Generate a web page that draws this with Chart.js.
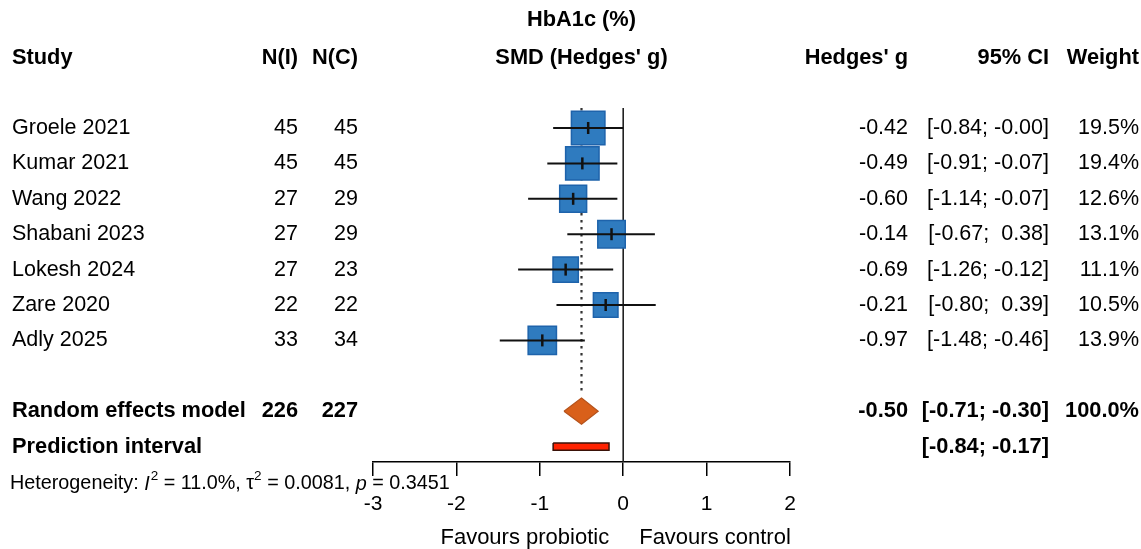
<!DOCTYPE html>
<html>
<head>
<meta charset="utf-8">
<script src="https://cdn.jsdelivr.net/npm/chart.js@4.4.1/dist/chart.umd.min.js"></script>
<style>
  html, body { margin: 0; padding: 0; background: #ffffff; }
  canvas { display: block; }
</style>
</head>
<body>
<canvas id="c" width="1141" height="549"></canvas>
<script>
// ---------------- data ----------------
const studies = ['Groele 2021', 'Kumar 2021', 'Wang 2022', 'Shabani 2023', 'Lokesh 2024', 'Zare 2020', 'Adly 2025'];
const nIntervention = [45, 45, 27, 27, 27, 22, 33];
const nControl = [45, 45, 29, 29, 23, 22, 34];
const hedgesG = [-0.42, -0.49, -0.60, -0.14, -0.69, -0.21, -0.97];
const ciLower = [-0.84, -0.91, -1.14, -0.67, -1.26, -0.80, -1.48];
const ciUpper = [-0.00, -0.07, -0.07, 0.38, -0.12, 0.39, -0.46];
const weights = [19.5, 19.4, 12.6, 13.1, 11.1, 10.5, 13.9];

const totalIntervention = 226;
const totalControl = 227;
const pooledEstimate = -0.50;
const pooledCI = [-0.71, -0.30];
const predictionInterval = [-0.84, -0.17];
const heterogeneity = { I2: 11.0, tau2: 0.0081, p: 0.3451 };

const xTicks = [-3, -2, -1, 0, 1, 2];
const outcomeLabel = 'HbA1c (%)';
const effectLabel = "SMD (Hedges' g)";
const labelLeft = 'Favours probiotic';
const labelRight = 'Favours control';

// ---------------- layout helpers ----------------
const ROW_RE = studies.length + 1;   // random effects row
const ROW_PI = studies.length + 2;   // prediction interval row
const Y_MIN = -0.565, Y_MAX = 9.435;
const FONT = "'Liberation Sans', Arial, Helvetica, sans-serif";

const fmt = v => ((v < 0 || Object.is(v, -0)) ? '-' : '') + Math.abs(v).toFixed(2);
const fmtCI = v => ((v < 0 || Object.is(v, -0)) ? '-' : ' ') + Math.abs(v).toFixed(2);

// ---------------- datasets ----------------
const datasets = [];

// reference line at 0
datasets.push({
  data: [{ x: 0, y: Y_MIN }, { x: 0, y: Y_MAX }],
  showLine: true, borderColor: '#222222', borderWidth: 1.6, pointRadius: 0, order: 20
});
// dotted line at pooled estimate
datasets.push({
  data: [{ x: pooledEstimate, y: Y_MIN }, { x: pooledEstimate, y: ROW_RE - 0.58 }],
  showLine: true, borderColor: '#333333', borderWidth: 2.2, borderDash: [2.5, 4.5], pointRadius: 0, order: 19
});
// squares
datasets.push({
  data: hedgesG.map((g, i) => ({ x: g, y: i })),
  pointStyle: 'rect',
  pointRadius: weights.map(w => 33.5 * Math.sqrt(w / 19.5) / Math.SQRT2),
  pointBackgroundColor: '#2f7bbf',
  pointBorderColor: '#1e63ab',
  pointBorderWidth: 1.5,
  showLine: false, order: 10
});
// CI lines
studies.forEach((s, i) => {
  datasets.push({
    data: [{ x: ciLower[i], y: i }, { x: ciUpper[i], y: i }],
    showLine: true, borderColor: '#111111', borderWidth: 2, pointRadius: 0, order: 5
  });
});
// estimate tick marks
datasets.push({
  data: hedgesG.map((g, i) => ({ x: g, y: i })),
  pointStyle: 'line', rotation: 90, pointRadius: 6,
  pointBorderColor: '#111111', pointBorderWidth: 2.5, showLine: false, order: 4
});
// diamond (random effects)
datasets.push({
  data: [
    { x: pooledCI[0], y: ROW_RE },
    { x: pooledEstimate, y: ROW_RE - 0.37 },
    { x: pooledCI[1], y: ROW_RE },
    { x: pooledEstimate, y: ROW_RE + 0.37 },
    { x: pooledCI[0], y: ROW_RE }
  ],
  showLine: true, fill: 'shape', backgroundColor: '#d9601a', borderColor: '#b5531c',
  borderWidth: 1.2, pointRadius: 0, tension: 0, order: 3
});
// prediction interval bar
datasets.push({
  data: [
    { x: predictionInterval[0], y: ROW_PI - 0.105 },
    { x: predictionInterval[1], y: ROW_PI - 0.105 },
    { x: predictionInterval[1], y: ROW_PI + 0.105 },
    { x: predictionInterval[0], y: ROW_PI + 0.105 },
    { x: predictionInterval[0], y: ROW_PI - 0.105 }
  ],
  showLine: true, fill: 'shape', backgroundColor: '#ff2200', borderColor: '#3a1208',
  borderWidth: 1.5, pointRadius: 0, tension: 0, order: 2
});

// ---------------- text plugin ----------------
const textPlugin = {
  id: 'forestText',
  afterDraw(chart) {
    const ctx = chart.ctx;
    const xs = chart.scales.x, ys = chart.scales.y;
    const area = chart.chartArea;
    const cx = (area.left + area.right) / 2;
    const colStudy = 12, colNI = 298, colNC = 358, colG = 908, colCI = 1049, colW = 1139;
    const hdrY = area.top - 50;
    const BOLD = `bold 21.8px ${FONT}`, REG = `21.5px ${FONT}`;
    ctx.save();
    ctx.fillStyle = '#000000';
    ctx.textBaseline = 'middle';

    // headers
    ctx.font = BOLD;
    ctx.textAlign = 'center';
    ctx.fillText(outcomeLabel, cx, area.top - 88);
    ctx.fillText(effectLabel, cx, hdrY);
    ctx.textAlign = 'left';
    ctx.fillText('Study', colStudy, hdrY);
    ctx.textAlign = 'right';
    ctx.fillText('N(I)', colNI, hdrY);
    ctx.fillText('N(C)', colNC, hdrY);
    ctx.fillText("Hedges' g", colG, hdrY);
    ctx.fillText('95% CI', colCI, hdrY);
    ctx.fillText('Weight', colW, hdrY);

    // study rows
    ctx.font = REG;
    studies.forEach((s, i) => {
      const y = ys.getPixelForValue(i);
      ctx.textAlign = 'left';
      ctx.fillText(s, colStudy, y);
      ctx.textAlign = 'right';
      ctx.fillText(String(nIntervention[i]), colNI, y);
      ctx.fillText(String(nControl[i]), colNC, y);
      ctx.fillText(fmt(hedgesG[i]), colG, y);
      ctx.fillText('[' + fmt(ciLower[i]) + '; ' + fmtCI(ciUpper[i]) + ']', colCI, y);
      ctx.fillText(weights[i].toFixed(1) + '%', colW, y);
    });

    // pooled rows
    ctx.font = BOLD;
    let y = ys.getPixelForValue(ROW_RE);
    ctx.textAlign = 'left';
    ctx.fillText('Random effects model', colStudy, y);
    ctx.textAlign = 'right';
    ctx.fillText(String(totalIntervention), colNI, y);
    ctx.fillText(String(totalControl), colNC, y);
    ctx.fillText(fmt(pooledEstimate), colG, y);
    ctx.fillText('[' + fmt(pooledCI[0]) + '; ' + fmtCI(pooledCI[1]) + ']', colCI, y);
    ctx.fillText('100.0%', colW, y);
    y = ys.getPixelForValue(ROW_PI);
    ctx.textAlign = 'left';
    ctx.fillText('Prediction interval', colStudy, y);
    ctx.textAlign = 'right';
    ctx.fillText('[' + fmt(predictionInterval[0]) + '; ' + fmtCI(predictionInterval[1]) + ']', colCI, y);

    // heterogeneity
    const hy = area.bottom + 22;
    let hx = 10;
    ctx.textAlign = 'left';
    const part = (txt, font, dy) => {
      ctx.font = font;
      ctx.fillText(txt, hx, hy + (dy || 0));
      hx += ctx.measureText(txt).width;
    };
    const reg = `19.8px ${FONT}`, ital = `italic 19.8px ${FONT}`, sup = `13.5px ${FONT}`;
    part('Heterogeneity: ', reg);
    part('I', ital);
    hx += 1;
    part('2', sup, -8);
    part(' = ' + heterogeneity.I2.toFixed(1) + '%, ', reg);
    part('\u03C4', reg);
    part('2', sup, -8);
    part(' = ' + heterogeneity.tau2.toFixed(4) + ', ', reg);
    part('p', ital);
    part(' = ' + heterogeneity.p.toFixed(4), reg);

    // favours labels
    ctx.font = `22px ${FONT}`;
    const zero = xs.getPixelForValue(0);
    const fy = area.bottom + 76;
    ctx.textAlign = 'right';
    ctx.fillText(labelLeft, zero - 14, fy);
    ctx.textAlign = 'left';
    ctx.fillText(labelRight, zero + 16, fy);
    ctx.restore();
  }
};

// ---------------- chart ----------------
new Chart(document.getElementById('c'), {
  type: 'scatter',
  data: { datasets },
  options: {
    responsive: false,
    animation: false,
    devicePixelRatio: 1,
    layout: { padding: { left: 373, right: 351, top: 108, bottom: 0 } },
    plugins: { legend: { display: false }, tooltip: { enabled: false } },
    elements: { line: { tension: 0 } },
    scales: {
      x: {
        type: 'linear', min: xTicks[0], max: xTicks[xTicks.length - 1],
        afterBuildTicks: s => { s.ticks = xTicks.map(v => ({ value: v })); },
        afterFit: s => { s.height = 87; },
        ticks: { color: '#000000', font: { family: FONT, size: 21 }, padding: 16, maxRotation: 0,
                 callback: v => String(v) },
        grid: { drawOnChartArea: false, drawTicks: true, tickLength: 14, color: '#000000', lineWidth: 1.5 },
        border: { display: true, color: '#000000', width: 1.5 }
      },
      y: { type: 'linear', reverse: true, min: Y_MIN, max: Y_MAX, display: false }
    }
  },
  plugins: [textPlugin]
});
</script>
</body>
</html>
